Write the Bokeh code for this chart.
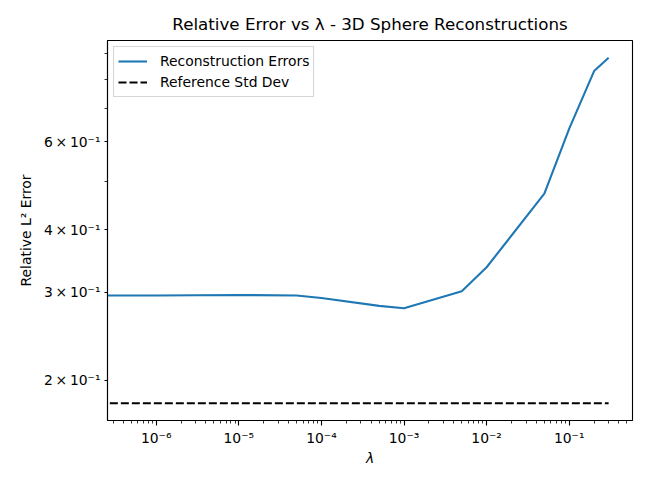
import numpy as np
from bokeh.plotting import figure
from bokeh.models import Range1d, FixedTicker, CustomJSTickFormatter, Legend, LegendItem
from bokeh.embed import file_html
from bokeh.resources import INLINE

# ---- data ----
lambdas = [0.0, 5e-7, 1e-6, 1e-5, 5e-5, 1e-4, 5e-4, 1e-3, 5e-3, 1e-2, 5e-2, 1e-1, 2e-1, 3e-1]
rel_errors = [0.2953, 0.2953, 0.2953, 0.2960, 0.2953, 0.2920, 0.2815, 0.2785,
              0.3010, 0.3363, 0.4719, 0.6368, 0.8300, 0.8824]
ref_std = 0.1798

x_major = [1e-6, 1e-5, 1e-4, 1e-3, 1e-2, 1e-1]
y_major = [0.2, 0.3, 0.4, 0.6]
y_minor = [0.5, 0.7, 0.8, 0.9]

title_text = "Relative Error vs \u03bb - 3D Sphere Reconstructions"
x_label = "\u03bb"
y_label = "Relative L\u00b2 Error"
legend_labels = ["Reconstruction Errors", "Reference Std Dev"]

# ---- matplotlib-like handling: zero is clipped on a log axis ----
lam = np.array(lambdas, dtype=float)
lam_plot = np.where(lam > 0, lam, 1e-30)
err = np.array(rel_errors, dtype=float)
std_line = np.full_like(lam, ref_std)

pos = lam[lam > 0]
lx0, lx1 = np.log10(pos.min()), np.log10(pos.max())
mx = 0.05 * (lx1 - lx0)
all_y = np.concatenate([err, std_line])
ly0, ly1 = np.log10(all_y.min()), np.log10(all_y.max())
my = 0.05 * (ly1 - ly0)

FONT = "DejaVu Sans"
FS = "13.9px"

p = figure(width=640, height=478, x_axis_type="log", y_axis_type="log",
           x_range=Range1d(10 ** (lx0 - mx), 10 ** (lx1 + mx)),
           y_range=Range1d(10 ** (ly0 - my), 10 ** (ly1 + my)),
           output_backend="svg", toolbar_location=None,
           min_border_left=107, min_border_right=8, min_border_top=40, min_border_bottom=58)

p.title.text = title_text
p.title.align = "center"
p.title.text_font = FONT
p.title.text_font_size = "16.7px"
p.title.text_font_style = "normal"
p.title.text_color = "black"
p.title.standoff = 13

p.xgrid.visible = False
p.ygrid.visible = False
p.outline_line_color = "black"
p.outline_line_width = 1.1
p.background_fill_color = "white"
p.border_fill_color = "white"

# minor ticks on x (2..9 x each decade)
x_minor = [k * 10.0 ** d for d in range(-8, 1) for k in range(2, 10)]
p.xaxis.ticker = FixedTicker(ticks=x_major, minor_ticks=x_minor)
p.yaxis.ticker = FixedTicker(ticks=y_major, minor_ticks=y_minor)

sup_js = """
const m = {'-':'\u207b','0':'\u2070','1':'\u00b9','2':'\u00b2','3':'\u00b3','4':'\u2074',
           '5':'\u2075','6':'\u2076','7':'\u2077','8':'\u2078','9':'\u2079'};
function sup(n){ return String(n).split('').map(c => m[c]).join(''); }
"""
p.xaxis.formatter = CustomJSTickFormatter(code=sup_js + """
const e = Math.round(Math.log10(tick));
return '10' + sup(e);
""")
p.yaxis.formatter = CustomJSTickFormatter(code=sup_js + """
const e = Math.floor(Math.log10(tick) + 1e-9);
const mant = Math.round(tick / Math.pow(10, e));
return mant + '\u2009\u00d7\u200910' + sup(e);
""")

for ax in (p.xaxis, p.yaxis):
    ax.axis_line_color = "black"
    ax.axis_line_width = 1.1
    ax.major_tick_line_color = "black"
    ax.minor_tick_line_color = "black"
    ax.major_tick_line_width = 1.1
    ax.minor_tick_line_width = 0.8
    ax.major_tick_in = 0
    ax.minor_tick_in = 0
    ax.major_label_text_font = FONT
    ax.major_label_text_font_size = FS
    ax.major_label_text_color = "black"
    ax.axis_label_text_font = FONT
    ax.axis_label_text_font_size = FS
    ax.axis_label_text_color = "black"
    ax.axis_label_text_font_style = "normal"
    ax.major_label_standoff = 4

p.xaxis.major_tick_out = 5
p.xaxis.minor_tick_out = 3
p.yaxis.major_tick_out = 3
p.yaxis.minor_tick_out = 3
p.xaxis.axis_label = x_label
p.xaxis.axis_label_text_font_style = "italic"
p.yaxis.axis_label = y_label
p.xaxis.axis_label_standoff = 1
p.yaxis.axis_label_standoff = 7

r1 = p.line(lam_plot, err, line_color="#1f77b4", line_width=2.1)
r2 = p.line(lam_plot, std_line, line_color="black", line_width=2.1, line_dash="8 3")

legend = Legend(items=[LegendItem(label=legend_labels[0], renderers=[r1]),
                       LegendItem(label=legend_labels[1], renderers=[r2])],
                location="top_left")
legend.margin = 6
legend.padding = 4
legend.spacing = 1
legend.glyph_width = 29
legend.glyph_height = 20
legend.label_height = 20
legend.label_standoff = 13
legend.label_text_font = FONT
legend.label_text_font_size = FS
legend.label_text_color = "black"
legend.border_line_color = "#cccccc"
legend.border_line_alpha = 0.8
legend.background_fill_alpha = 0.8
p.add_layout(legend)

open("out.html", "w").write(file_html(p, INLINE))
